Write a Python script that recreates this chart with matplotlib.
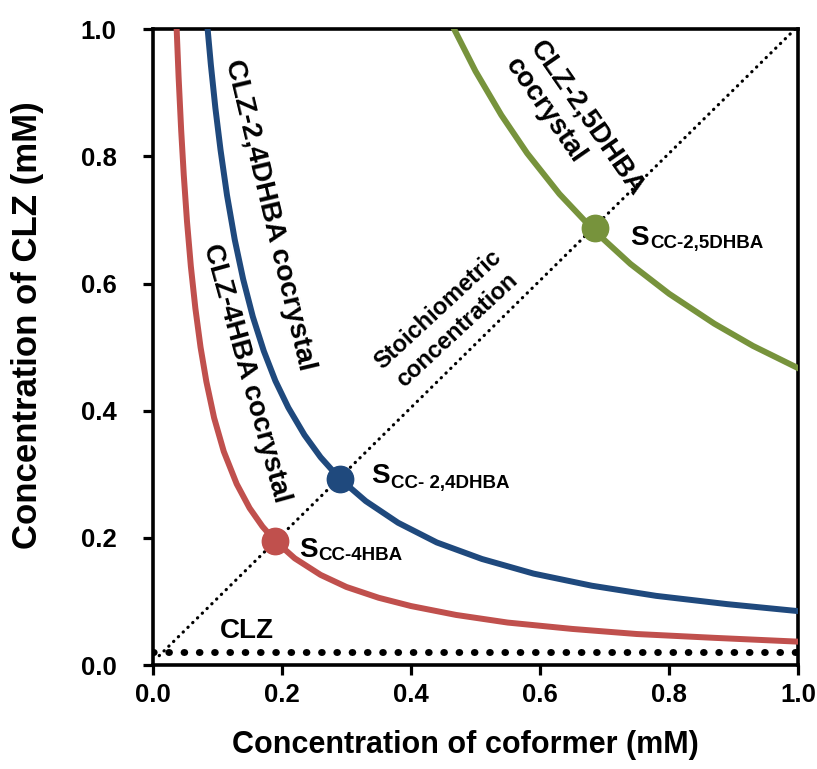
import matplotlib
matplotlib.use("Agg")
import matplotlib.pyplot as plt

plt.rcParams["font.family"] = ["Liberation Sans", "DejaVu Sans"]
plt.rcParams["font.weight"] = "bold"
plt.rcParams["axes.labelweight"] = "bold"

# solubility curves (coformer mM, CLZ mM)
red_x = [0.037, 0.040, 0.044, 0.048, 0.053, 0.059, 0.066, 0.074, 0.083, 0.095,
         0.11, 0.13, 0.15, 0.17, 0.19, 0.22, 0.26, 0.30, 0.35, 0.40, 0.47,
         0.55, 0.65, 0.75, 0.87, 1.0]
red_y = [1.0, 0.925, 0.841, 0.771, 0.698, 0.627, 0.561, 0.500, 0.446, 0.389,
         0.336, 0.285, 0.247, 0.218, 0.195, 0.168, 0.142, 0.123, 0.106, 0.093,
         0.079, 0.067, 0.057, 0.049, 0.043, 0.037]
blue_x = [0.085, 0.090, 0.097, 0.105, 0.115, 0.127, 0.14, 0.155, 0.172, 0.19,
          0.21, 0.235, 0.26, 0.29, 0.33, 0.38, 0.44, 0.51, 0.59, 0.68, 0.78,
          0.89, 1.0]
blue_y = [1.0, 0.944, 0.876, 0.810, 0.739, 0.669, 0.607, 0.548, 0.494, 0.447,
          0.405, 0.362, 0.327, 0.293, 0.258, 0.224, 0.193, 0.167, 0.144, 0.125,
          0.109, 0.096, 0.085]
green_x = [0.467, 0.50, 0.54, 0.58, 0.63, 0.683, 0.74, 0.80, 0.87, 0.93, 1.0]
green_y = [1.0, 0.934, 0.865, 0.805, 0.741, 0.684, 0.631, 0.584, 0.537, 0.502, 0.467]

# eutectic points (S_cc)
scc_x = [0.19, 0.29, 0.685]
scc_y = [0.195, 0.293, 0.688]
scc_names = ["CC-4HBA", "CC- 2,4DHBA", "CC-2,5DHBA"]

# CLZ solubility and stoichiometric line
clz_x = [0.0, 1.0]
clz_y = [0.02, 0.02]
stoich_x = [0.01, 0.995]
stoich_y = [0.015, 1.0]

ticks = [0.0, 0.2, 0.4, 0.6, 0.8, 1.0]

RED = "#C0504D"
BLUE = "#1F497D"
GREEN = "#77933C"

fig = plt.figure(figsize=(8.17, 7.69), dpi=100)
ax = fig.add_axes([0.187, 0.135, 0.790, 0.827])

ax.plot(stoich_x, stoich_y, color="black", lw=2.3, linestyle=(0, (0.1, 2.0)),
        dash_capstyle="round", zorder=2)
ax.plot(clz_x, clz_y, color="black", lw=5.0, linestyle=(0, (0.1, 2.1)),
        dash_capstyle="round", zorder=2)

ax.plot(red_x, red_y, color=RED, lw=4.3, zorder=3, solid_joinstyle="round")
ax.plot(blue_x, blue_y, color=BLUE, lw=4.3, zorder=3, solid_joinstyle="round")
ax.plot(green_x, green_y, color=GREEN, lw=4.3, zorder=3, solid_joinstyle="round")

for x, y, c in zip(scc_x, scc_y, [RED, BLUE, GREEN]):
    ax.plot([x], [y], "o", color=c, markersize=19, zorder=4)

# label placement for each S_cc (S glyph, then subscript)
s_pos = [(0.227, 0.170), (0.338, 0.286), (0.740, 0.660)]
sub_pos = [(0.256, 0.165), (0.369, 0.278), (0.770, 0.656)]
for (sx, sy), (bx, by), name in zip(s_pos, sub_pos, scc_names):
    ax.text(sx, sy, "S", fontsize=20, ha="left", va="baseline")
    ax.text(bx, by, name, fontsize=13.5, ha="left", va="baseline")

ax.text(0.145, 0.459, "CLZ-4HBA cocrystal", rotation=-74.5, fontsize=20,
        ha="center", va="center", rotation_mode="anchor")
ax.text(0.181, 0.708, "CLZ-2,4DHBA cocrystal", rotation=-76.6, fontsize=20.5,
        ha="center", va="center", rotation_mode="anchor")
ax.text(0.654, 0.846, "CLZ-2,5DHBA\ncocrystal", rotation=-55.3, fontsize=20,
        ha="center", va="center", rotation_mode="anchor", linespacing=1.2,
        multialignment="left")
ax.text(0.457, 0.543, "Stoichiometric\nconcentration", rotation=42.8, fontsize=17,
        ha="center", va="center", rotation_mode="anchor", linespacing=1.3)
ax.text(0.104, 0.042, "CLZ", fontsize=20, ha="left", va="baseline")

ax.set_xlim(0, 1)
ax.set_ylim(0, 1)
ax.set_xticks(ticks)
ax.set_yticks(ticks)
ax.set_xticklabels([f"{t:.1f}" for t in ticks])
ax.set_yticklabels([f"{t:.1f}" for t in ticks])
ax.tick_params(direction="out", length=7, width=2.3, labelsize=18.5)
ax.tick_params(axis="x", pad=6)
ax.tick_params(axis="y", pad=19)

for s in ax.spines.values():
    s.set_linewidth(2.6)

fig.text(0.570, 0.031, "Concentration of coformer (mM)", fontsize=22,
         ha="center", va="center")
fig.text(0.034, 0.577, "Concentration of CLZ (mM)", fontsize=25, rotation=90,
         ha="center", va="center")

fig.savefig("out.png", dpi=100, facecolor="white")
